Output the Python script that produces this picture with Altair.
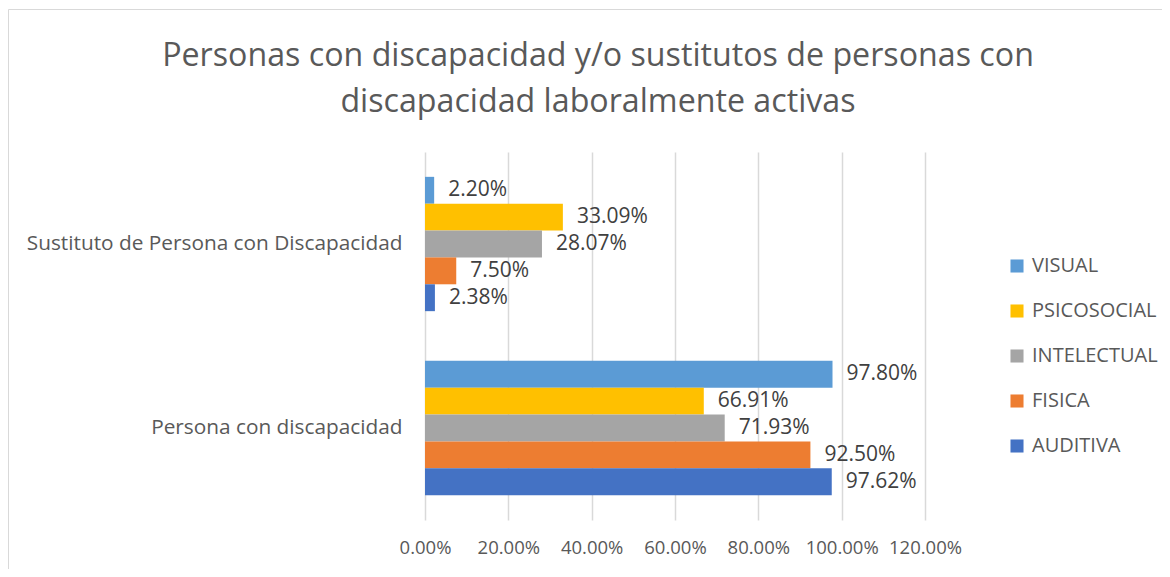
import altair as alt
import pandas as pd

categories = ["Sustituto de Persona con Discapacidad", "Persona con discapacidad"]
series = ["VISUAL", "PSICOSOCIAL", "INTELECTUAL", "FISICA", "AUDITIVA"]
colors = ["#5B9BD5", "#FFC000", "#A5A5A5", "#ED7D31", "#4472C4"]
values_sustituto = [0.0220, 0.3309, 0.2807, 0.0750, 0.0238]
values_persona = [0.9780, 0.6691, 0.7193, 0.9250, 0.9762]
x_ticks = [0, 0.2, 0.4, 0.6, 0.8, 1.0, 1.2]

rows = []
for s, v in zip(series, values_sustituto):
    rows.append({"cat": categories[0], "serie": s, "val": v})
for s, v in zip(series, values_persona):
    rows.append({"cat": categories[1], "serie": s, "val": v})
df = pd.DataFrame(rows)

FONT = "Open Sans"

y_enc = alt.Y("cat:N", sort=categories, title=None,
              scale=alt.Scale(paddingInner=0.27, paddingOuter=0.135),
              axis=alt.Axis(labelFontSize=20.8, labelColor="#595959", labelFont=FONT,
                            ticks=False, domain=False, labelPadding=23, labelLimit=600))
yoff = alt.YOffset("serie:N", sort=series)
x_enc = alt.X("val:Q", title=None,
              scale=alt.Scale(domain=[0, 1.2], nice=False),
              axis=alt.Axis(values=x_ticks, format=".2%", labelFontSize=18.5,
                            labelColor="#595959", labelFont=FONT, ticks=False,
                            domain=False, labelPadding=18, gridColor="#D9D9D9",
                            gridWidth=1.5, labelFlush=False, labelOverlap=False))

bars = alt.Chart(df).mark_bar().encode(
    x=x_enc, y=y_enc, yOffset=yoff,
    color=alt.Color("serie:N", sort=series,
                    scale=alt.Scale(domain=series, range=colors),
                    legend=alt.Legend(title=None, orient="none", legendX=582, legendY=104,
                                      symbolType="square", symbolSize=170,
                                      symbolStrokeWidth=0,
                                      labelFontSize=20, labelColor="#595959",
                                      labelFont=FONT, rowPadding=25, labelOffset=5)),
)

labels = alt.Chart(df).mark_text(align="left", baseline="middle", dx=14,
                                 fontSize=21, color="#404040", font=FONT).encode(
    x="val:Q", y=alt.Y("cat:N", sort=categories), yOffset=yoff,
    text=alt.Text("val:Q", format=".2%"),
)

frame = alt.Chart(pd.DataFrame({"a": [0]})).mark_rect(
    fillOpacity=0, stroke="#D9D9D9", strokeWidth=1).encode(
    x=alt.value(-416.5), x2=alt.value(800), y=alt.value(-142.5), y2=alt.value(500))

chart = (frame + bars + labels).properties(
    width=500, height=368,
    title=alt.Title(["Personas con discapacidad y/o sustitutos de personas con",
                     "discapacidad laboralmente activas"],
                    fontSize=32.2, font=FONT, fontWeight="normal", color="#595959",
                    lineHeight=46, dx=-77, offset=-110.5, anchor="middle", frame="group"),
    autosize=alt.AutoSizeParams(type="none"),
    padding={"left": 417, "top": 144, "right": 237, "bottom": 49},
).configure_view(stroke=None).configure_axisY(grid=False)

chart.save("out.html", embed_options={"renderer": "svg", "actions": False})
